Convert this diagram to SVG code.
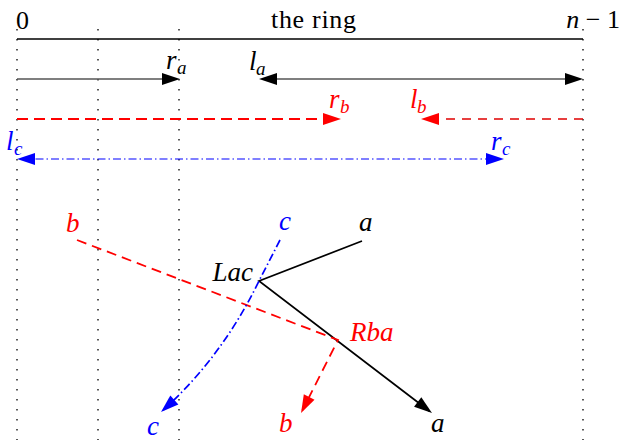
<svg xmlns="http://www.w3.org/2000/svg" width="621" height="442" viewBox="0 0 621 442">
<style>
text{font-family:"Liberation Serif","Times New Roman",serif}
.t{font-size:27px}
.rm{font-size:26px}
.i{font-style:italic}
.s{font-size:19px;font-style:italic}
.k{fill:#000}
.r{fill:#ff0000}
.b{fill:#0000ff}
.dot{stroke:#000;stroke-width:1.3;stroke-dasharray:1.6 8.4;fill:none}
.ln{fill:none}
</style>
<defs>
<marker id="ak" markerUnits="userSpaceOnUse" markerWidth="18" markerHeight="12" refX="15" refY="6" orient="auto-start-reverse" overflow="visible"><path d="M0,0 L18,6 L0,12 z" fill="#000"/></marker>
<marker id="ar" markerUnits="userSpaceOnUse" markerWidth="18" markerHeight="12" refX="15" refY="6" orient="auto-start-reverse" overflow="visible"><path d="M0,0 L18,6 L0,12 z" fill="#ff0000"/></marker>
<marker id="ab" markerUnits="userSpaceOnUse" markerWidth="18" markerHeight="12" refX="15" refY="6" orient="auto-start-reverse" overflow="visible"><path d="M0,0 L18,6 L0,12 z" fill="#0000ff"/></marker>
</defs>
<rect width="621" height="442" fill="#fff"/>

<g id="guides">
<line class="dot" x1="17" y1="29" x2="17" y2="440"/>
<line class="dot" x1="98" y1="29" x2="98" y2="440"/>
<line class="dot" x1="179" y1="29" x2="179" y2="440"/>
<line class="dot" x1="583" y1="29" x2="583" y2="440"/>
</g>

<g id="ring">
<line x1="17" y1="39" x2="583" y2="39" stroke="#000" stroke-width="1.3"/>
<text class="rm k" x="16" y="29">0</text>
<text class="rm k" x="271" y="28" textLength="85" lengthAdjust="spacing">the ring</text>
<text class="rm k" x="620" y="28" text-anchor="end"><tspan class="i">n</tspan> − 1</text>
</g>

<g id="connectors">
<line class="ln" x1="17" y1="79" x2="177" y2="79" stroke="#555" stroke-width="1.3" marker-end="url(#ak)"/>
<line class="ln" x1="262" y1="79" x2="580" y2="79" stroke="#555" stroke-width="1.3" marker-start="url(#ak)" marker-end="url(#ak)"/>
<line class="ln" x1="17" y1="119" x2="338" y2="119" stroke="#ff0000" stroke-width="2" stroke-dasharray="11 6" marker-end="url(#ar)"/>
<line class="ln" x1="583" y1="119" x2="424" y2="119" stroke="#e00000" stroke-width="1.3" stroke-dasharray="9 7" marker-end="url(#ar)"/>
<line class="ln" x1="20" y1="159" x2="501" y2="159" stroke="#0000ff" stroke-width="1.1" stroke-dasharray="8 3 1.5 3" marker-start="url(#ab)" marker-end="url(#ab)"/>
<path class="ln" d="M362,241 L259,281 L429.6,411.2" stroke="#000" stroke-width="1.7" marker-end="url(#ak)"/>
<path class="ln" d="M77,240 L338,340 L302.4,410.3" stroke="#ff0000" stroke-width="1.8" stroke-dasharray="10 6" marker-end="url(#ar)"/>
<path class="ln" d="M280,240 L259,281 Q222,357 163.2,410" stroke="#0000ff" stroke-width="1.7" stroke-dasharray="8 3 1.5 3" marker-end="url(#ab)"/>
</g>

<g id="label-ra"><text class="t i k" x="166" y="69">r</text><text class="s k" x="177" y="74">a</text></g>
<g id="label-la"><text class="t i k" x="249" y="70">l</text><text class="s k" x="256" y="75">a</text></g>
<g id="label-rb"><text class="t i r" x="329" y="108">r</text><text class="s r" x="340" y="113">b</text></g>
<g id="label-lb"><text class="t i r" x="410" y="108">l</text><text class="s r" x="417" y="113">b</text></g>
<g id="label-lc"><text class="t i b" x="6" y="150">l</text><text class="s b" x="14" y="155">c</text></g>
<g id="label-rc"><text class="t i b" x="491" y="150">r</text><text class="s b" x="502" y="155">c</text></g>

<g id="node-b-top"><text class="t i r" x="66" y="232">b</text></g>
<g id="node-c-top"><text class="t i b" x="279" y="230">c</text></g>
<g id="node-a-top"><text class="t i k" x="359" y="231">a</text></g>
<g id="node-Lac"><text class="t i k" x="253" y="281" text-anchor="end">Lac</text></g>
<g id="node-Rba"><text class="t i r" x="350" y="341">Rba</text></g>
<g id="node-b-bottom"><text class="t i r" x="279" y="432">b</text></g>
<g id="node-c-bottom"><text class="t i b" x="147" y="435">c</text></g>
<g id="node-a-bottom"><text class="t i k" x="431" y="432">a</text></g>
</svg>
